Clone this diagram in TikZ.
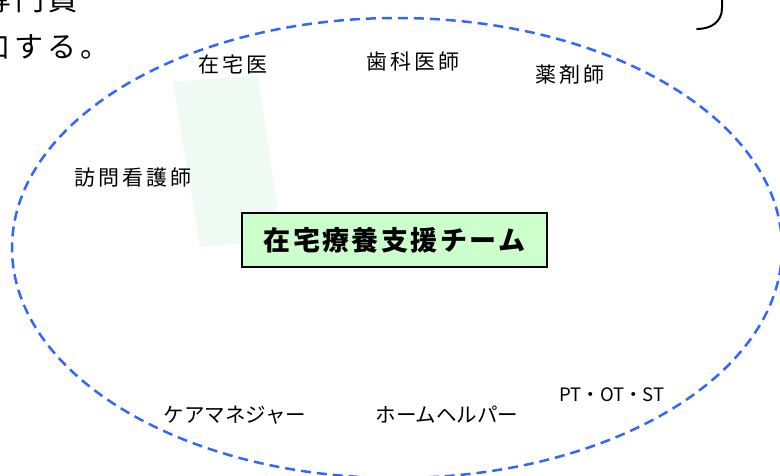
\documentclass[tikz,border=0pt]{standalone}
\usepackage{fontspec}
\newfontfamily\jpsans{Noto Sans CJK JP}
\newfontfamily\jplbl[LetterSpace=14]{Noto Sans CJK JP}
\newfontfamily\jptitle[LetterSpace=9]{Noto Sans CJK JP}
\newfontfamily\jpbody[LetterSpace=15]{Noto Sans CJK JP}
\definecolor{teamblue}{RGB}{51,102,255}
\definecolor{titlegreen}{RGB}{204,255,204}
\definecolor{palemint}{RGB}{240,250,245}
\tikzset{
  member/.style={inner sep=0pt, font=\jplbl\fontsize{21}{24}\selectfont},
  memberkana/.style={inner sep=0pt, font=\jpsans\fontsize{20.5}{24}\selectfont},
  titlebox/.style={draw=black, line width=1.5pt, fill=titlegreen, minimum width=305pt, minimum height=54pt, inner sep=0pt, font=\jptitle\bfseries\fontsize{27}{30}\selectfont},
  bodytext/.style={inner sep=0pt, anchor=east, font=\jpbody\fontsize{29}{32}\selectfont},
  teamring/.style={draw=teamblue, line width=2.5pt, dash pattern=on 10pt off 6pt}
}
\begin{document}
\begin{tikzpicture}[x=1pt,y=-1pt]
\useasboundingbox (0,0) rectangle (780,476);
% cut-off text above
\node[bodytext] (line1) at (78,0) {介護支援専門員};
\node[bodytext] (line2) at (110,47) {参加する。};
% bracket end at top right
\draw[line width=2pt, line cap=round] (722,-4) -- (722,8) .. controls (722,22) and (711,29) .. (697,29);
% dashed team ring
\draw[teamring] (397,248) ellipse [x radius=385pt, y radius=230pt];
% pale background shape
\fill[palemint] (173,82) -- (258,75) -- (282,240) -- (200,247) -- cycle;
% title
\node[titlebox] (team) at (394.5,240) {在宅療養支援チーム};
% members
\node[member] (doc) at (233,65) {在宅医};
\node[member] (dent) at (413,62) {歯科医師};
\node[member] (pharm) at (570,75) {薬剤師};
\node[member] (nurse) at (133,178) {訪問看護師};
\node[memberkana] (cm) at (235,415) {ケアマネジャー};
\node[memberkana] (hh) at (447,415) {ホームヘルパー};
\node[memberkana, font=\jpsans\fontsize{18.5}{22}\selectfont] (rehab) at (612,395) {PT・OT・ST};
\end{tikzpicture}
\end{document}
